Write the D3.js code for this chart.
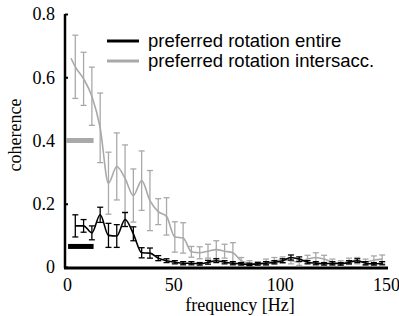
<!DOCTYPE html>
<html>
<head>
<meta charset="utf-8">
<script src="https://cdn.jsdelivr.net/npm/d3@7"></script>
<style>
  body { margin: 0; background: #fff; }
  .tick text { font-family: "Liberation Serif", "Times New Roman", serif; font-size: 18px; }
</style>
</head>
<body>
<div id="chart"></div>
<script>
// frequency bins (Hz), 3.9 Hz apart
var freq = [3.9, 7.8, 11.7, 15.6, 19.5, 23.4, 27.3, 31.2, 35.1, 39.0,
            42.9, 46.8, 50.7, 54.6, 58.5, 62.4, 66.3, 70.2, 74.1, 78.0,
            81.9, 85.8, 89.7, 93.6, 97.5, 101.4, 105.3, 109.2, 113.1, 117.0,
            120.9, 124.8, 128.7, 132.6, 136.5, 140.4, 144.3, 148.2];

// preferred rotation entire (black)
var entireMean = [0.13, 0.13, 0.108, 0.165, 0.10, 0.098, 0.15, 0.105, 0.045, 0.044,
                  0.028, 0.02, 0.015, 0.012, 0.012, 0.01, 0.015, 0.02, 0.015, 0.012,
                  0.01, 0.008, 0.01, 0.012, 0.015, 0.02, 0.03, 0.025, 0.015, 0.012,
                  0.01, 0.012, 0.01, 0.015, 0.02, 0.012, 0.01, 0.012];
var entireErr  = [0.035, 0.02, 0.022, 0.024, 0.038, 0.036, 0.022, 0.022, 0.016, 0.016,
                  0.008, 0.006, 0.005, 0.005, 0.005, 0.004, 0.006, 0.006, 0.005, 0.005,
                  0.004, 0.004, 0.004, 0.005, 0.005, 0.006, 0.008, 0.007, 0.005, 0.005,
                  0.004, 0.005, 0.004, 0.005, 0.006, 0.005, 0.004, 0.005];

// preferred rotation intersacc. (gray), first point has no error bar
var interFreq0 = 1.9, interMean0 = 0.66;
var interMean = [0.633, 0.595, 0.54, 0.44, 0.265, 0.318, 0.28, 0.226, 0.273, 0.21,
                 0.175, 0.16, 0.095, 0.092, 0.048, 0.045, 0.05, 0.055, 0.05, 0.045,
                 0.02, 0.012, 0.01, 0.015, 0.02, 0.022, 0.02, 0.015, 0.025, 0.03,
                 0.025, 0.015, 0.012, 0.018, 0.02, 0.015, 0.022, 0.025];
var interErr  = [0.10, 0.084, 0.092, 0.11, 0.098, 0.106, 0.106, 0.084, 0.094, 0.095,
                 0.041, 0.059, 0.048, 0.048, 0.017, 0.019, 0.022, 0.028, 0.022, 0.032,
                 0.01, 0.008, 0.007, 0.01, 0.01, 0.01, 0.01, 0.01, 0.012, 0.015,
                 0.012, 0.01, 0.008, 0.01, 0.01, 0.01, 0.013, 0.013];

// low band averages (thick bars)
var bandRange = [0.5, 12.5];
var bandEntire = 0.065;
var bandInter = 0.4;

var yTicks = [0, 0.2, 0.4, 0.6, 0.8];
var xTicks = [0, 50, 100, 150];
var legendLabels = ["preferred rotation entire", "preferred rotation intersacc."];

var width = 399, height = 316;
var grey = "#a9a9a9";

var svg = d3.select("#chart").append("svg")
    .attr("width", width)
    .attr("height", height);

// scales
var x = d3.scaleLinear().domain([0, 150]).range([67, 386]);
var y = d3.scaleLinear().domain([0, 0.8]).range([267, 14]);

// axes
var yAxis = svg.append("g")
    .attr("transform", "translate(65,0)")
    .call(d3.axisLeft(y).tickValues(yTicks).tickSizeInner(-3).tickSizeOuter(0).tickPadding(10)
        .tickFormat(d => d == 0 ? "0" : d3.format(".1f")(d)));
yAxis.select(".domain").attr("stroke-width", 2.5).attr("d", "M0," + y(0.8) + "V" + (y(0) + 1));
yAxis.selectAll(".tick line").attr("stroke-width", 2);

var xAxis = svg.append("g")
    .attr("transform", "translate(0,268)")
    .call(d3.axisBottom(x).tickValues(xTicks).tickSize(0).tickPadding(10));
xAxis.select(".domain").attr("stroke-width", 3).attr("d", "M64,0H388");

// axis titles
svg.append("text")
    .attr("x", 240)
    .attr("y", 311)
    .attr("text-anchor", "middle")
    .style("font-family", "Liberation Serif, Times New Roman, serif")
    .style("font-size", "18px")
    .text("frequency [Hz]");

svg.append("text")
    .attr("transform", "translate(21,135) rotate(-90)")
    .attr("text-anchor", "middle")
    .style("font-family", "Liberation Serif, Times New Roman, serif")
    .style("font-size", "18px")
    .text("coherence");

// helper for a series with error bars
function drawSeries(fs, means, errs, color, extra) {
    var g = svg.append("g");
    var pts = fs.map((f, i) => [f, means[i]]);
    if (extra) pts.unshift(extra);
    g.append("path")
        .datum(pts)
        .attr("fill", "none")
        .attr("stroke", color)
        .attr("stroke-width", 1.6)
        .attr("d", d3.line().x(d => x(d[0])).y(d => y(d[1])).curve(d3.curveMonotoneX));

    var bars = g.selectAll(".eb")
        .data(fs.map((f, i) => ({f: f, m: means[i], e: errs[i]})))
        .enter().append("g");
    bars.append("line")
        .attr("x1", d => x(d.f)).attr("x2", d => x(d.f))
        .attr("y1", d => y(d.m - d.e)).attr("y2", d => y(d.m + d.e))
        .attr("stroke", color).attr("stroke-width", 1.3);
    bars.append("line")
        .attr("x1", d => x(d.f) - 3).attr("x2", d => x(d.f) + 3)
        .attr("y1", d => y(d.m - d.e)).attr("y2", d => y(d.m - d.e))
        .attr("stroke", color).attr("stroke-width", 1.3);
    bars.append("line")
        .attr("x1", d => x(d.f) - 3).attr("x2", d => x(d.f) + 3)
        .attr("y1", d => y(d.m + d.e)).attr("y2", d => y(d.m + d.e))
        .attr("stroke", color).attr("stroke-width", 1.3);
}

drawSeries(freq, interMean, interErr, grey, [interFreq0, interMean0]);
drawSeries(freq, entireMean, entireErr, "#000");

// band bars
svg.append("line")
    .attr("x1", x(bandRange[0]) - 2).attr("x2", x(bandRange[1]))
    .attr("y1", y(bandInter)).attr("y2", y(bandInter))
    .attr("stroke", grey).attr("stroke-width", 5);
svg.append("line")
    .attr("x1", x(bandRange[0])).attr("x2", x(bandRange[1]))
    .attr("y1", y(bandEntire)).attr("y2", y(bandEntire))
    .attr("stroke", "#000").attr("stroke-width", 5);

// legend
var legend = svg.append("g");
legendLabels.forEach(function(lab, i) {
    legend.append("line")
        .attr("x1", 107).attr("x2", 139)
        .attr("y1", 41 + i * 20).attr("y2", 41 + i * 20)
        .attr("stroke", i == 0 ? "#000" : grey)
        .attr("stroke-width", 3);
    legend.append("text")
        .attr("x", 148)
        .attr("y", 47 + i * 20)
        .style("font-family", "Liberation Sans, Arial, sans-serif")
        .style("font-size", "18.5px")
        .text(lab);
});
</script>
</body>
</html>
